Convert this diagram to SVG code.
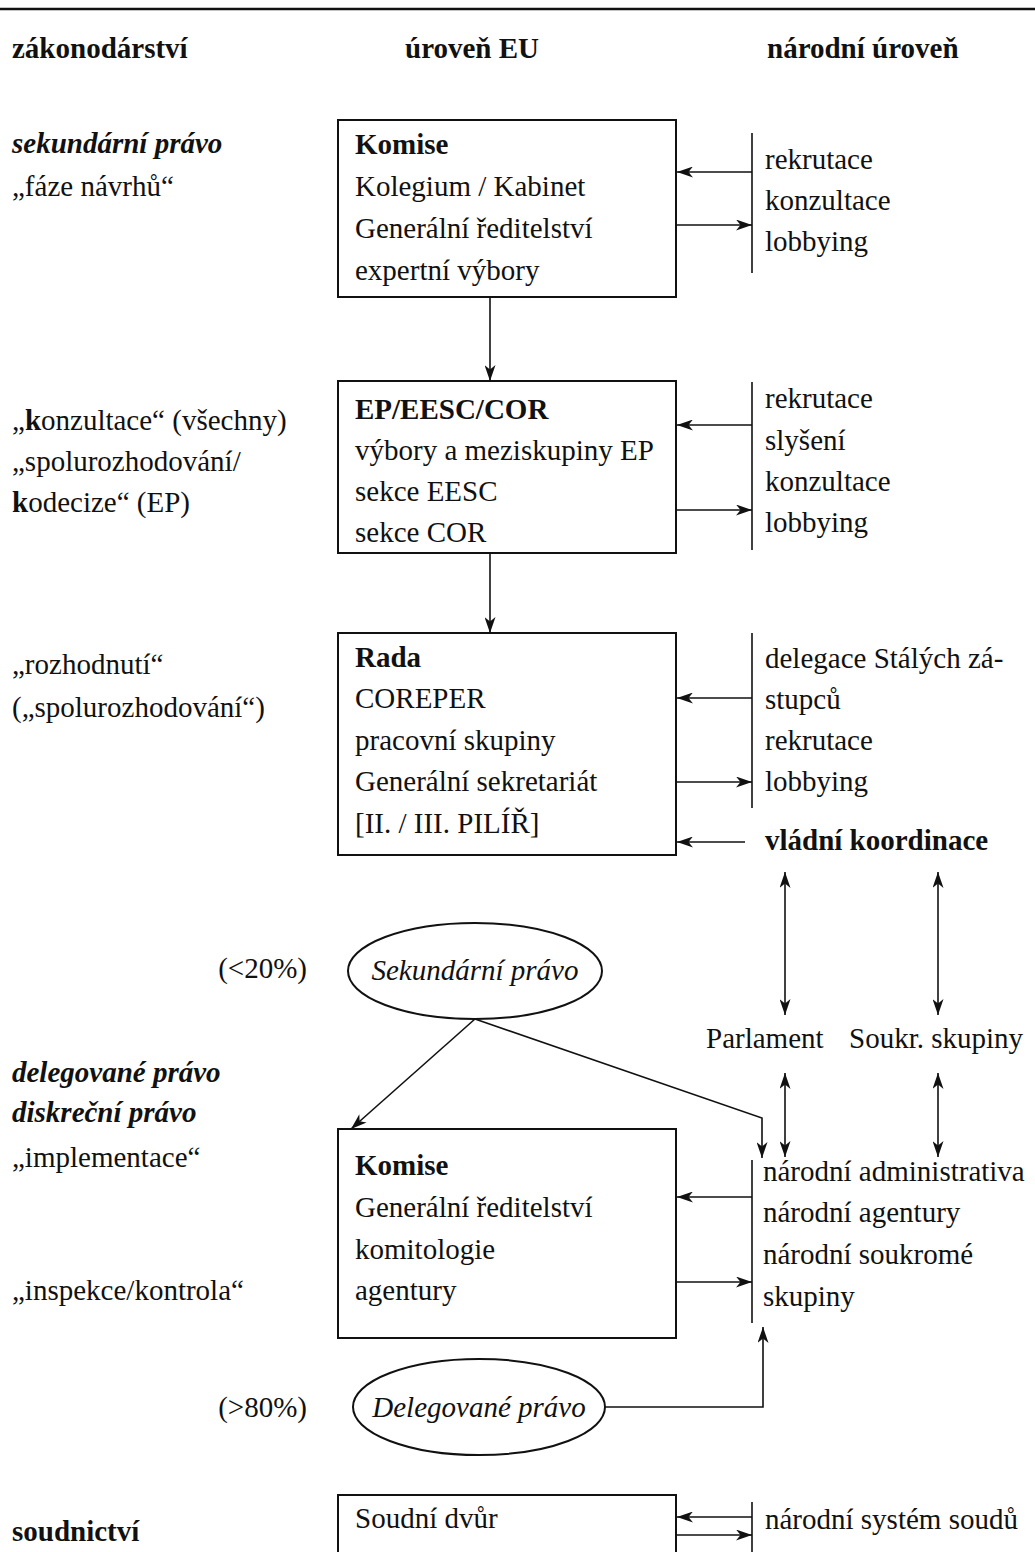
<svg xmlns="http://www.w3.org/2000/svg" width="1035" height="1552" viewBox="0 0 1035 1552">
<style>
text{font-family:"Liberation Serif","Times New Roman",serif;font-size:29px;fill:#111}
.b{font-weight:bold}
.bi{font-weight:bold;font-style:italic}
.i{font-style:italic}
.box{fill:none;stroke:#111;stroke-width:2}
.ln{fill:none;stroke:#111;stroke-width:1.6}
.bar{stroke:#111;stroke-width:1.6}
</style>
<defs>
<marker id="ah" viewBox="0 0 16 11" refX="16" refY="5.5" markerWidth="16" markerHeight="11" markerUnits="userSpaceOnUse" orient="auto-start-reverse">
<path d="M0,0 L16,5.5 L0,11 L4.5,5.5 z" fill="#111"/>
</marker>
</defs>
<rect width="1035" height="1552" fill="#fff"/>
<line x1="0" y1="9" x2="1035" y2="9" stroke="#111" stroke-width="2.5"/>

<g id="headers">
<text class="b" x="12" y="58">zákonodárství</text>
<text class="b" x="405" y="58" font-size="30">úroveň EU</text>
<text class="b" x="767" y="58" font-size="30">národní úroveň</text>
</g>

<g id="legis-secondary">
<text class="bi" x="12" y="153">sekundární právo</text>
<text x="12" y="196">„fáze návrhů“</text>
</g>
<g id="box-komise">
<rect class="box" x="338" y="120" width="338" height="177"/>
<text class="b" x="355" y="154">Komise</text>
<text x="355" y="196">Kolegium / Kabinet</text>
<text x="355" y="238">Generální ředitelství</text>
<text x="355" y="280">expertní výbory</text>
</g>
<g id="nat-komise">
<line class="bar" x1="752" y1="133" x2="752" y2="273"/>
<text x="765" y="169">rekrutace</text>
<text x="765" y="210">konzultace</text>
<text x="765" y="251">lobbying</text>
</g>

<g id="legis-consult">
<text x="12" y="430">„<tspan class="b">k</tspan>onzultace“ (všechny)</text>
<text x="12" y="471">„spolurozhodování/</text>
<text x="12" y="512"><tspan class="b">k</tspan>odecize“ (EP)</text>
</g>
<g id="box-ep">
<rect class="box" x="338" y="381" width="338" height="172"/>
<text class="b" x="355" y="419">EP/EESC/COR</text>
<text x="355" y="460">výbory a meziskupiny EP</text>
<text x="355" y="501">sekce EESC</text>
<text x="355" y="542">sekce COR</text>
</g>
<g id="nat-ep">
<line class="bar" x1="752" y1="382" x2="752" y2="550"/>
<text x="765" y="408">rekrutace</text>
<text x="765" y="450">slyšení</text>
<text x="765" y="491">konzultace</text>
<text x="765" y="532">lobbying</text>
</g>

<g id="legis-decision">
<text x="12" y="674">„rozhodnutí“</text>
<text x="12" y="717">(„spolurozhodování“)</text>
</g>
<g id="box-rada">
<rect class="box" x="338" y="633" width="338" height="222"/>
<text class="b" x="355" y="667">Rada</text>
<text x="355" y="708">COREPER</text>
<text x="355" y="750">pracovní skupiny</text>
<text x="355" y="791">Generální sekretariát</text>
<text x="355" y="833">[II. / III. PILÍŘ]</text>
</g>
<g id="nat-rada">
<line class="bar" x1="752" y1="633" x2="752" y2="808"/>
<text x="765" y="668">delegace Stálých zá-</text>
<text x="765" y="709">stupců</text>
<text x="765" y="750">rekrutace</text>
<text x="765" y="791">lobbying</text>
</g>
<g id="vladni-koordinace">
<text class="b" x="765" y="850" font-family="'DejaVu Serif','Liberation Serif',serif" font-size="25">vládní koordinace</text>
</g>

<g id="pct-20"><text x="307" y="978" text-anchor="end">(&lt;20%)</text></g>
<g id="ell-sekundarni">
<ellipse class="box" cx="475" cy="971" rx="127" ry="48" stroke-width="1.8"/>
<text class="i" x="475" y="980" text-anchor="middle">Sekundární právo</text>
</g>
<g id="parlament"><text x="706" y="1048">Parlament</text></g>
<g id="soukr-skupiny"><text x="849" y="1048">Soukr. skupiny</text></g>

<g id="legis-delegated">
<text class="bi" x="12" y="1082">delegované právo</text>
<text class="bi" x="12" y="1122">diskreční právo</text>
<text x="12" y="1167">„implementace“</text>
<text x="12" y="1300">„inspekce/kontrola“</text>
</g>
<g id="box-komise2">
<rect class="box" x="338" y="1129" width="338" height="209"/>
<text class="b" x="355" y="1175">Komise</text>
<text x="355" y="1217">Generální ředitelství</text>
<text x="355" y="1259">komitologie</text>
<text x="355" y="1300">agentury</text>
</g>
<g id="nat-admin">
<line class="bar" x1="752" y1="1160" x2="752" y2="1323"/>
<text x="763" y="1181">národní administrativa</text>
<text x="763" y="1222">národní agentury</text>
<text x="763" y="1264">národní soukromé</text>
<text x="763" y="1306">skupiny</text>
</g>

<g id="pct-80"><text x="307" y="1417" text-anchor="end">(&gt;80%)</text></g>
<g id="ell-delegovane">
<ellipse class="box" cx="479" cy="1407" rx="126" ry="48" stroke-width="1.8"/>
<text class="i" x="479" y="1417" text-anchor="middle">Delegované právo</text>
</g>

<g id="legis-judiciary"><text class="b" x="12" y="1541">soudnictví</text></g>
<g id="box-soudni">
<rect class="box" x="338" y="1495" width="338" height="70"/>
<text x="355" y="1528">Soudní dvůr</text>
</g>
<g id="nat-soudy">
<line class="bar" x1="752" y1="1502" x2="752" y2="1552"/>
<text x="765" y="1529">národní systém soudů</text>
</g>

<g id="connectors">
<line class="ln" x1="490" y1="297" x2="490" y2="381" marker-end="url(#ah)"/>
<line class="ln" x1="490" y1="553" x2="490" y2="633" marker-end="url(#ah)"/>
<line class="ln" x1="752" y1="172" x2="677" y2="172" marker-end="url(#ah)"/>
<line class="ln" x1="677" y1="225" x2="752" y2="225" marker-end="url(#ah)"/>
<line class="ln" x1="752" y1="425" x2="677" y2="425" marker-end="url(#ah)"/>
<line class="ln" x1="677" y1="510" x2="752" y2="510" marker-end="url(#ah)"/>
<line class="ln" x1="752" y1="698" x2="677" y2="698" marker-end="url(#ah)"/>
<line class="ln" x1="677" y1="782" x2="752" y2="782" marker-end="url(#ah)"/>
<line class="ln" x1="745" y1="842" x2="677" y2="842" marker-end="url(#ah)"/>
<line class="ln" x1="785" y1="872" x2="785" y2="1015" marker-start="url(#ah)" marker-end="url(#ah)"/>
<line class="ln" x1="938" y1="872" x2="938" y2="1015" marker-start="url(#ah)" marker-end="url(#ah)"/>
<line class="ln" x1="785" y1="1073" x2="785" y2="1157" marker-start="url(#ah)" marker-end="url(#ah)"/>
<line class="ln" x1="938" y1="1073" x2="938" y2="1157" marker-start="url(#ah)" marker-end="url(#ah)"/>
<line class="ln" x1="475" y1="1019" x2="351" y2="1129" marker-end="url(#ah)"/>
<polyline class="ln" points="475,1019 762,1118 762,1158" marker-end="url(#ah)"/>
<line class="ln" x1="752" y1="1197" x2="677" y2="1197" marker-end="url(#ah)"/>
<line class="ln" x1="677" y1="1282" x2="752" y2="1282" marker-end="url(#ah)"/>
<polyline class="ln" points="605,1407 763,1407 763,1327" marker-end="url(#ah)"/>
<line class="ln" x1="752" y1="1517" x2="677" y2="1517" marker-end="url(#ah)"/>
<line class="ln" x1="677" y1="1535" x2="752" y2="1535" marker-end="url(#ah)"/>
</g>
</svg>
